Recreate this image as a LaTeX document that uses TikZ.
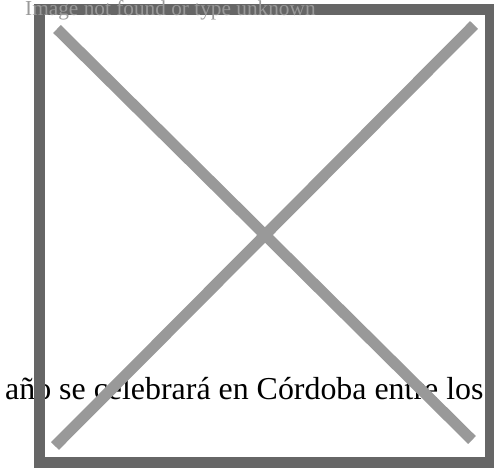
\documentclass[tikz,border=0pt]{standalone}
\usepackage{fontspec}
\setmainfont{Liberation Serif}
\usetikzlibrary{positioning}
\definecolor{framegray}{HTML}{666666}
\definecolor{crossgray}{HTML}{999999}
\tikzset{
  frame/.style = {draw=framegray, line width=11pt},
  crossline/.style = {draw=crossgray, line width=11pt, line cap=butt},
  alttext/.style = {text=crossgray, inner sep=0pt, anchor=base west, font=\fontsize{21.3}{25}\selectfont},
  bodytext/.style = {text=black, inner sep=0pt, anchor=base west, font=\fontsize{31.9}{38}\selectfont},
}
\begin{document}
\begin{tikzpicture}[x=1pt, y=-1pt]
    \useasboundingbox (0,0) rectangle (494,470);
    % Text of the page, under the placeholder
    \node[bodytext] (caption) at (5,399) {año se celebrará en Córdoba entre los};

    % Broken image placeholder: frame and cross
    \draw[frame] (39.5,9.5) rectangle (490.5,462);
    \draw[crossline] (57,29) -- (472,440);
    \draw[crossline] (474,25) -- (55,446);

    % Alternative text on top
    \node[alttext] (missing) at (25,15.5) {Image not found or type unknown};
\end{tikzpicture}
\end{document}
